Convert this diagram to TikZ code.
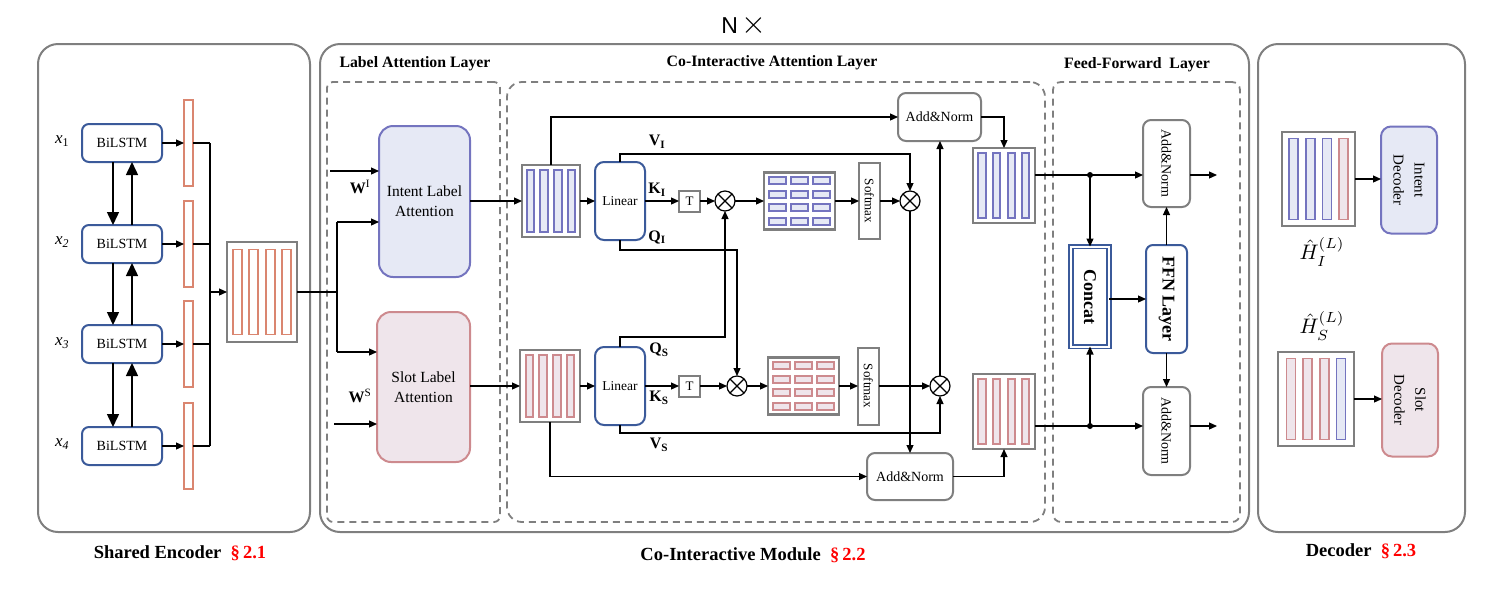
\documentclass[tikz,border=0pt]{standalone}
\usepackage{graphicx}
\usepackage{fontspec}
\setmainfont{Liberation Serif}
\newfontfamily\sansfam{Liberation Sans}
\usetikzlibrary{arrows.meta,calc}
\definecolor{grayb}{HTML}{7F7F7F}
\definecolor{darkblue}{HTML}{3B5A9A}
\definecolor{purpl}{HTML}{7474BF}
\definecolor{purfill}{HTML}{E6E9F5}
\definecolor{pinkl}{HTML}{CD8A8E}
\definecolor{pinkfill}{HTML}{EFE5EB}
\definecolor{encred}{HTML}{DA8670}
\definecolor{secred}{HTML}{FF0000}
\newcommand\fsz[2]{\fontsize{#1}{#2}\selectfont}
\begin{document}
\begin{tikzpicture}[x=1pt,y=-1pt,
  every node/.style={inner sep=0pt, outer sep=0pt, align=center},
  grayframe/.style={draw=grayb, line width=2pt, rounded corners=20pt},
  dashframe/.style={draw=grayb, line width=1.8pt, dash pattern=on 7pt off 5pt},
  bluebox/.style={draw=darkblue, line width=2pt, fill=white, rounded corners=7pt},
  graybox/.style={draw=grayb, line width=2pt, fill=white, rounded corners=8pt},
  matfr/.style={draw=grayb, line width=2.4pt, fill=white},
  conn/.style={line width=1.2pt, -{Triangle[length=8pt,width=7pt]}},
  plain/.style={line width=1.2pt},
  bigconn/.style={line width=1.5pt, -{Triangle[length=13pt,width=12pt]}},
  otimes/.style={circle, draw, line width=1.2pt, minimum size=20pt, fill=white,
    path picture={\draw[line width=1.2pt] (path picture bounding box.south west) -- (path picture bounding box.north east) (path picture bounding box.north west) -- (path picture bounding box.south east);}},
  ebar/.style={draw=encred, line width=1.8pt, fill=white, minimum width=9pt, minimum height=86pt},
  ibarst/.style={draw=purpl, line width=1.6pt, fill=purfill},
  sbarst/.style={draw=pinkl, line width=1.6pt, fill=pinkfill},
  lbl/.style={font=\bfseries\fsz{16}{16}},
  hdr/.style={font=\bfseries\fsz{15.8}{15.8}},
  ftr/.style={font=\bfseries\fsz{18.5}{18.5}}
]
\useasboundingbox (0,0) rectangle (1486,590);

% ---------- outer frames ----------
\node[grayframe, minimum width=272pt, minimum height=488pt] (enc) at (174,288) {};
\node[grayframe, minimum width=929pt, minimum height=488pt] (cim) at (784.5,288) {};
\node[grayframe, minimum width=207pt, minimum height=488pt] (dec) at (1361.5,288) {};
\node[font=\sansfam\fsz{23}{23}] (nx) at (744,25) {N\,\raisebox{0.5pt}{\scalebox{3.2}{\fsz{10}{10}$\times$}}};

\node[ftr] (enct) at (180,553) {Shared Encoder\ \ {\color{secred}§\,2.1}};
\node[ftr] (cimt) at (753,555) {Co-Interactive Module\ \ {\color{secred}§\,2.2}};
\node[ftr] (dect) at (1361,551) {Decoder\ \ {\color{secred}§\,2.3}};

% ---------- dashed frames ----------
\node[dashframe, rounded corners=6pt, minimum width=173pt, minimum height=440pt] (lal) at (413.5,302) {};
\node[dashframe, rounded corners=15pt, minimum width=538pt, minimum height=440pt] (cal) at (776,302) {};
\node[dashframe, rounded corners=8pt, minimum width=187pt, minimum height=440pt] (ffl) at (1146.5,302) {};
\node[hdr] (lalt) at (415,64) {Label Attention Layer};
\node[hdr] (calt) at (772,63) {Co-Interactive Attention Layer};
\node[hdr] (fflt) at (1137,65) {Feed-Forward\ \ Layer};

% ---------- shared encoder ----------
\foreach \i/\y in {1/143,2/244,3/344,4/446}{
  \node[bluebox, minimum width=80pt, minimum height=38pt, font=\fsz{14}{14}] (b\i) at (122,\y) {BiLSTM};
  \node[ebar] (e\i) at (188.5,\y) {};
  \draw[conn] (b\i.east) -- (e\i.west);
}
\node[font=\fsz{17}{17}] (x1) at (62,141) {\textit{x}\textsubscript{1}};
\node[font=\fsz{17}{17}] (x2) at (62,242) {\textit{x}\textsubscript{\textit{2}}};
\node[font=\fsz{17}{17}] (x3) at (62,343) {\textit{x}\textsubscript{\textit{3}}};
\node[font=\fsz{17}{17}] (x4) at (62,444) {\textit{x}\textsubscript{\textit{4}}};
\foreach \a/\b in {1/2,2/3,3/4}{
  \draw[bigconn] ([xshift=-9pt]b\a.south) -- ([xshift=-9pt]b\b.north);
  \draw[bigconn] ([xshift=10pt]b\b.north) -- ([xshift=10pt]b\a.south);
}
\node[matfr, minimum width=70pt, minimum height=100pt] (hm) at (262,292) {};
\foreach \dx in {-24.5,-8.2,8.2,24.5}
  \draw[encred, line width=1.8pt, fill=white] ($(hm.center)+(\dx-4.5,-42.5)$) rectangle ++(9,85);
\coordinate (bus1) at (210,143);
\coordinate (bus4) at (210,446);
\foreach \i in {1,...,4} \draw[plain] (e\i.east) -- (e\i.east -| bus1);
\draw[plain] (bus1) -- (bus4);
\draw[conn] (bus1 |- hm.west) -- (hm.west);

% ---------- label attention ----------
\node[draw=purpl, fill=purfill, line width=2pt, rounded corners=14pt, minimum width=91pt, minimum height=151pt, font=\fsz{15.5}{20}] (ila) at (424.5,201.5) {Intent Label\\Attention};
\node[draw=pinkl, fill=pinkfill, line width=2pt, rounded corners=14pt, minimum width=93pt, minimum height=150pt, font=\fsz{15.5}{20}] (sla) at (423.5,387) {Slot Label\\Attention};
\coordinate (jn) at (337,292);
\coordinate (ji) at (337,222);
\coordinate (js) at (337,352);
\draw[plain] (hm.east) -- (jn);
\draw[plain] (ji) -- (js);
\draw[conn] (ji) -- (ji -| ila.west);
\draw[conn] (js) -- (js -| sla.west);
\coordinate (wi) at (330,171);
\coordinate (ws) at (334,424);
\draw[conn] (wi) -- (wi -| ila.west);
\draw[conn] (ws) -- (ws -| sla.west);
\node[lbl] (wil) at (360,187) {W\textsuperscript{\mdseries I}};
\node[lbl] (wsl) at (360,396) {W\textsuperscript{\mdseries S}};

% ---------- co-interactive attention ----------
\node[matfr, minimum width=58pt, minimum height=72pt] (bm) at (551,201) {};
\foreach \dx in {-20.5,-7,7,20.5}
  \draw[ibarst] ($(bm.center)+(\dx-3.75,-31)$) rectangle ++(7.5,62);
\node[matfr, minimum width=60pt, minimum height=72pt] (sm) at (550,386) {};
\foreach \dx in {-20.5,-7,7,20.5}
  \draw[sbarst] ($(sm.center)+(\dx-3.75,-31)$) rectangle ++(7.5,62);
\draw[conn] (ila.east |- bm.west) -- (bm.west);
\draw[conn] (sla.east |- sm.west) -- (sm.west);

\node[bluebox, rounded corners=9pt, minimum width=50pt, minimum height=78pt, font=\fsz{13.5}{13.5}] (lin1) at (620,201) {Linear};
\node[bluebox, rounded corners=9pt, minimum width=50pt, minimum height=78pt, font=\fsz{13.5}{13.5}] (lin2) at (620,386) {Linear};
\draw[conn] (bm.east) -- (lin1.west);
\draw[conn] (sm.east) -- (lin2.west);

\node[draw=grayb, line width=2pt, minimum size=21pt, font=\fsz{13}{13}] (t1) at (689.5,201) {T};
\node[draw=grayb, line width=2pt, minimum size=21pt, font=\fsz{13}{13}] (t2) at (689.5,386) {T};
\node[otimes] (o1) at (725,201) {};
\node[otimes] (o2) at (910,201) {};
\node[otimes] (o3) at (737,386) {};
\node[otimes] (o4) at (940,386) {};

\node[matfr, minimum width=71pt, minimum height=57pt] (am1) at (799.5,201) {};
\node[matfr, minimum width=71pt, minimum height=57pt] (am2) at (803.5,386) {};
\foreach \cx in {-22,0,22}
  \foreach \cy in {-20.5,-6.5,6.5,20.5}{
    \draw[ibarst] ($(am1.center)+(\cx-8.5,\cy-3.5)$) rectangle ++(17,7);
    \draw[sbarst] ($(am2.center)+(\cx-8.5,\cy-3.5)$) rectangle ++(17,7);
  }
\node[draw=grayb, line width=2pt, minimum width=21pt, minimum height=76pt] (sf1) at (869.5,201) {};
\node[draw=grayb, line width=2pt, minimum width=21pt, minimum height=77pt] (sf2) at (868.5,386) {};
\node[rotate=-90, font=\fsz{13}{13}] (sf1t) at (sf1) {Softmax};
\node[rotate=-90, font=\fsz{13}{13}] (sf2t) at (sf2) {Softmax};

\draw[conn] (lin1.east) -- (t1.west);
\draw[conn] (t1.east) -- (o1.west);
\draw[conn] (o1.east) -- (am1.west);
\draw[conn] (am1.east) -- (sf1.west);
\draw[conn] (sf1.east) -- (o2.west);
\draw[conn] (lin2.east) -- (t2.west);
\draw[conn] (t2.east) -- (o3.west);
\draw[conn] (o3.east) -- (am2.west);
\draw[conn] (am2.east) -- (sf2.west);
\draw[conn] (sf2.east) -- (o4.west);

\node[graybox, minimum width=83pt, minimum height=48pt, font=\fsz{14}{14}] (an1) at (939.5,117) {Add\&Norm};
\node[graybox, minimum width=86pt, minimum height=47pt, font=\fsz{14}{14}] (an2) at (910,476.5) {Add\&Norm};

\coordinate (vi) at (910,154);
\coordinate (qi) at (737,250);
\coordinate (qs) at (725,337);
\coordinate (vs) at (940,433);
\draw[conn] (lin1.north) |- (vi) -- (o2.north);
\draw[conn] (lin1.south) |- (qi) -- (o3.north);
\draw[conn] (lin2.north) |- (qs) -- (o1.south);
\draw[conn] (lin2.south) |- (vs) -- (o4.south);
\draw[conn] (o2.south) -- (an2.north);
\draw[conn] (o4.north) -- (o4.north |- an1.south);
\draw[conn] (bm.north) |- (an1.west);
\draw[conn] (sm.south) |- (an2.west);

\node[lbl] (vil) at (657,142) {V\textsubscript{I}};
\node[lbl] (kil) at (657,190) {K\textsubscript{I}};
\node[lbl] (qil) at (657,237) {Q\textsubscript{I}};
\node[lbl] (qsl) at (659,350) {Q\textsubscript{S}};
\node[lbl] (ksl) at (659,398) {K\textsubscript{S}};
\node[lbl] (vsl) at (659,445) {V\textsubscript{S}};

\node[matfr, minimum width=62pt, minimum height=75pt] (bo) at (1004,185.5) {};
\foreach \dx in {-22,-7.5,7.5,21.5}
  \draw[ibarst] ($(bo.center)+(\dx-3.75,-32.5)$) rectangle ++(7.5,65);
\node[matfr, minimum width=62pt, minimum height=75pt] (so) at (1004,411.5) {};
\foreach \dx in {-22,-7.5,7.5,21.5}
  \draw[sbarst] ($(so.center)+(\dx-3.75,-32.5)$) rectangle ++(7.5,65);
\draw[conn] (an1.east) -| (bo.north);
\draw[conn] (an2.east) -| (so.south);

% ---------- feed-forward ----------
\node[graybox, minimum width=47pt, minimum height=87pt] (fa1) at (1166.5,163.5) {};
\node[graybox, minimum width=47pt, minimum height=88pt] (fa2) at (1166.5,431) {};
\node[rotate=-90, font=\fsz{14}{14}] (fa1t) at (fa1) {Add\&Norm};
\node[rotate=-90, font=\fsz{14}{14}] (fa2t) at (fa2) {Add\&Norm};
\node[draw=darkblue, line width=1.6pt, double=white, double distance=2pt, minimum width=38pt, minimum height=100pt] (cc) at (1090,296.5) {};
\node[rotate=-90, font=\bfseries\fsz{18}{18}] (cct) at (cc) {Concat};
\node[bluebox, minimum width=41pt, minimum height=108pt] (ffn) at (1166.5,299) {};
\node[rotate=-90, font=\bfseries\fsz{18}{18}] (ffnt) at (ffn) {FFN Layer};

\coordinate (j1) at (1090,175);
\coordinate (j2) at (1090,426);
\coordinate (out1) at (1217,175);
\coordinate (out2) at (1217,426);
\draw[plain] (bo.east |- j1) -- (j1);
\draw[plain] (so.east |- j2) -- (j2);
\draw[conn] (j1) -- (j1 -| fa1.west);
\draw[conn] (j2) -- (j2 -| fa2.west);
\draw[conn] (j1) -- (cc.north);
\draw[conn] (j2) -- (cc.south);
\fill (j1) circle (3pt);
\fill (j2) circle (3pt);
\draw[conn] (cc.east |- ffn.west) -- (ffn.west);
\draw[conn] (ffn.north) -- (fa1.south);
\draw[conn] (ffn.south) -- (fa2.north);
\draw[conn] (fa1.east |- out1) -- (out1);
\draw[conn] (fa2.east |- out2) -- (out2);

% ---------- decoder ----------
\node[matfr, minimum width=73pt, minimum height=94pt] (im) at (1318.5,179) {};
\foreach \dx in {-25,-8.3,8.3}
  \draw[ibarst] ($(im.center)+(\dx-4.5,-40.5)$) rectangle ++(9,81);
\draw[sbarst] ($(im.center)+(25-4.5,-40.5)$) rectangle ++(9,81);
\node[matfr, minimum width=76pt, minimum height=94pt] (smx) at (1316,399) {};
\foreach \dx in {-25,-8.3,8.3}
  \draw[sbarst] ($(smx.center)+(\dx-4.5,-40.5)$) rectangle ++(9,81);
\draw[ibarst] ($(smx.center)+(25-4.5,-40.5)$) rectangle ++(9,81);

\node[draw=purpl, fill=purfill, line width=2pt, rounded corners=10pt, minimum width=56pt, minimum height=107pt] (idc) at (1409,180) {};
\node[rotate=-90, font=\fsz{15}{21}] (idct) at (idc) {Intent\\Decoder};
\node[draw=pinkl, fill=pinkfill, line width=2pt, rounded corners=10pt, minimum width=56pt, minimum height=113pt] (sdc) at (1410,400) {};
\node[rotate=-90, font=\fsz{15}{21}] (sdct) at (sdc) {Slot\\Decoder};
\draw[conn] (im.east) -- (im.east -| idc.west);
\draw[conn] (smx.east) -- (smx.east -| sdc.west);
\node (hil) at (1322,252) {\scalebox{2.1}{$\hat{H}_I^{(L)}$}};
\node (hsl) at (1322,326) {\scalebox{2.1}{$\hat{H}_S^{(L)}$}};
\end{tikzpicture}
\end{document}
